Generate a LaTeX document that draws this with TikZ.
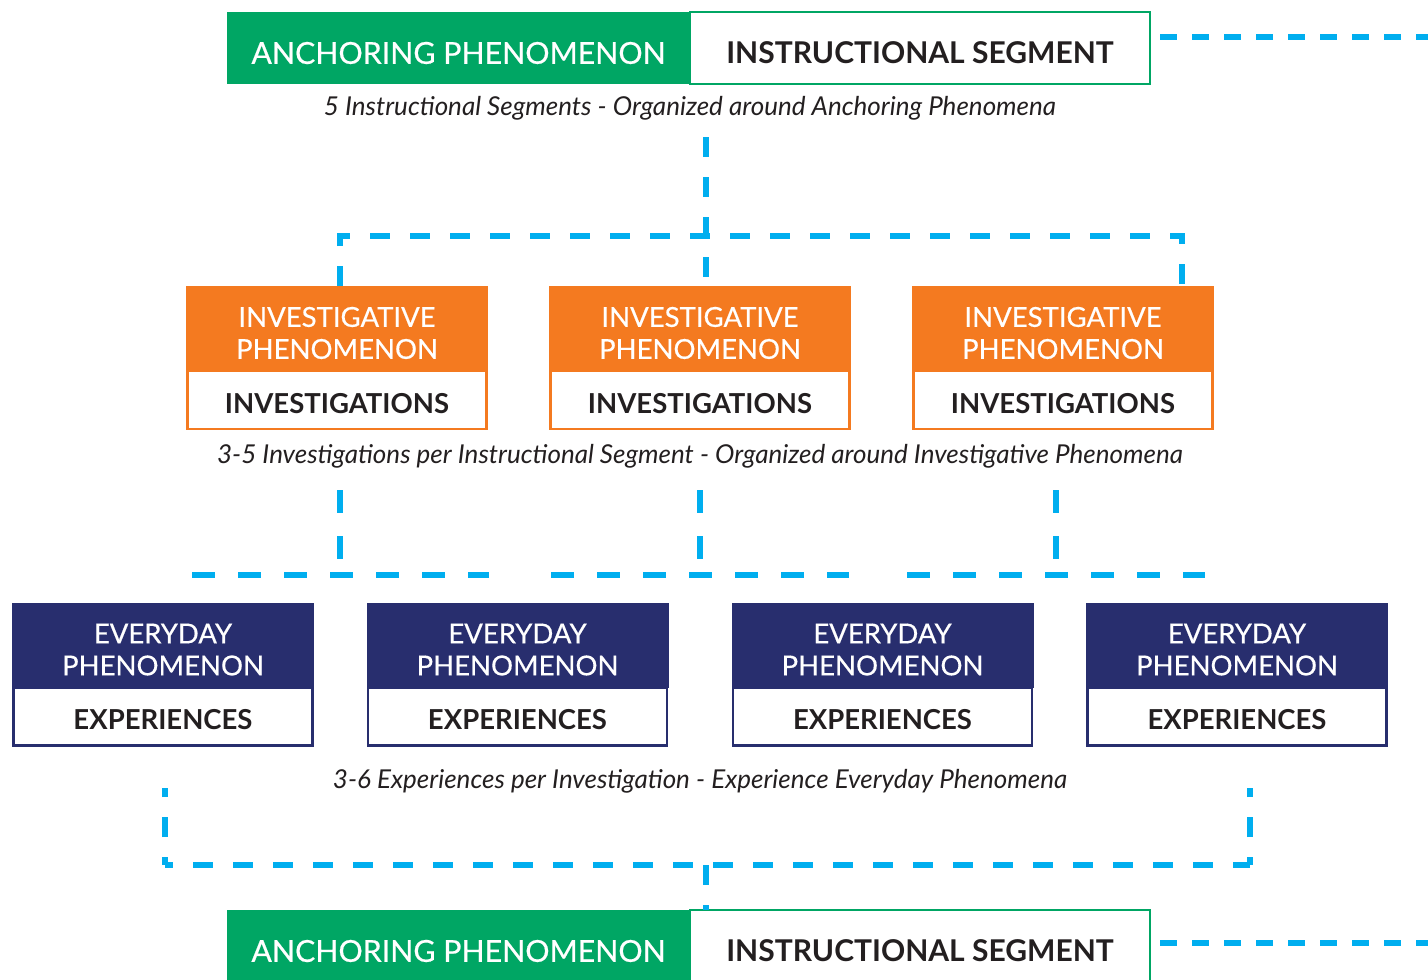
\documentclass[tikz,border=0pt]{standalone}
\usepackage{fontspec}
\setmainfont{Lato}
\newfontfamily\labelfont{Lato}[FakeBold=0.5]
\usepackage{xcolor}
\usetikzlibrary{positioning}
\definecolor{leafgreen}{RGB}{0,166,100}
\definecolor{rustorange}{RGB}{244,122,32}
\definecolor{deepnavy}{RGB}{40,46,110}
\definecolor{skycyan}{RGB}{0,174,239}
\definecolor{inkgray}{RGB}{35,31,32}
\tikzset{
    anchor-box/.style = {fill=leafgreen, text=white, minimum width=463pt, minimum height=72pt, inner sep=0pt, outer sep=0pt, text height=31.7pt, text depth=0pt, font=\labelfont\fontsize{30.3}{34}\selectfont},
    segment-box/.style = {draw=leafgreen, line width=2.5pt, fill=white, text=inkgray, minimum width=460pt, minimum height=72pt, inner sep=0pt, outer sep=0pt, text height=31.7pt, text depth=0pt, font=\bfseries\fontsize{30}{34}\selectfont},
    inv-head/.style = {fill=rustorange, text=white, align=center, minimum width=302pt, minimum height=85pt, inner sep=0pt, outer sep=0pt, text height=60.7pt, text depth=0pt, font=\labelfont\fontsize{27.5}{32}\selectfont},
    inv-body/.style = {draw=rustorange, line width=2.5pt, fill=white, text=inkgray, minimum width=299pt, minimum height=58pt, inner sep=0pt, outer sep=0pt, text height=26.8pt, text depth=0pt, font=\bfseries\fontsize{27.5}{30}\selectfont},
    day-head/.style = {inv-head, fill=deepnavy},
    day-body/.style = {inv-body, draw=deepnavy},
    note/.style = {text=inkgray, font=\itshape\fontsize{26}{30}\selectfont},
    link/.style = {draw=skycyan, line width=5.5pt, dash pattern=on 20pt off 20pt},
    link-mid/.style = {link, dash pattern=on 23pt off 23pt},
    link-side/.style = {link, dash pattern=on 17pt off 15pt},
}
\begin{document}
\begin{tikzpicture}[x=1pt, y=-1pt]
\fill[white] (0,0) rectangle (1428,980);
\useasboundingbox (0,0) rectangle (1428,980);
% top segment
\node[anchor-box] (anchor1) at (458.5,48) {ANCHORING PHENOMENON};
\node[segment-box, right=0pt of anchor1] (segment1) {INSTRUCTIONAL SEGMENT};
\node[note] (note1) at (690,108) {5 Instructional Segments - Organized around Anchoring Phenomena};
% investigations
\node[inv-head] (inv1) at (337,328.5) {INVESTIGATIVE\\PHENOMENON};
\node[inv-body, below=0pt of inv1] (inv1b) {INVESTIGATIONS};
\node[inv-head] (inv2) at (700,328.5) {INVESTIGATIVE\\PHENOMENON};
\node[inv-body, below=0pt of inv2] (inv2b) {INVESTIGATIONS};
\node[inv-head] (inv3) at (1063,328.5) {INVESTIGATIVE\\PHENOMENON};
\node[inv-body, below=0pt of inv3] (inv3b) {INVESTIGATIONS};
\node[note] (note2) at (700,456) {3-5 Investigations per Instructional Segment - Organized around Investigative Phenomena};
% experiences
\node[day-head] (day1) at (163,645) {EVERYDAY\\PHENOMENON};
\node[day-body, below=0pt of day1] (day1b) {EXPERIENCES};
\node[day-head] (day2) at (517.5,645) {EVERYDAY\\PHENOMENON};
\node[day-body, below=0pt of day2] (day2b) {EXPERIENCES};
\node[day-head] (day3) at (882.5,645) {EVERYDAY\\PHENOMENON};
\node[day-body, below=0pt of day3] (day3b) {EXPERIENCES};
\node[day-head] (day4) at (1237,645) {EVERYDAY\\PHENOMENON};
\node[day-body, below=0pt of day4] (day4b) {EXPERIENCES};
\node[note] (note3) at (700,781) {3-6 Experiences per Investigation - Experience Everyday Phenomena};
% next segment
\node[anchor-box] (anchor2) at (458.5,946) {ANCHORING PHENOMENON};
\node[segment-box, right=0pt of anchor2] (segment2) {INSTRUCTIONAL SEGMENT};

% dashed links
\coordinate (hub0) at (706,137);
\coordinate (hub1l) at (340,236);
\coordinate (hub1r) at (1182,236);
\draw[link] (hub0) -- (hub0 |- inv2.north);
\draw[link] (inv1.north -| hub1l) -- (hub1l) -- (hub1r) -- (inv3.north -| hub1r);

\coordinate (drop2a) at (340,490);
\coordinate (drop2b) at (700,490);
\coordinate (drop2c) at (1056,490);
\coordinate (hub2a) at (340,575);
\coordinate (hub2b) at (700,575);
\coordinate (hub2c) at (1056,575);
\draw[link-mid] (drop2a) -- (hub2a);
\draw[link-mid] (drop2b) -- (hub2b);
\draw[link-mid] (drop2c) -- (hub2c);
\draw[link-mid] ([xshift=-148pt]hub2a) -- ([xshift=149pt]hub2a);
\draw[link-mid] ([xshift=-149pt]hub2b) -- ([xshift=149pt]hub2b);
\draw[link-mid] ([xshift=-149pt]hub2c) -- ([xshift=149pt]hub2c);

\coordinate (rise3l) at (165,788);
\coordinate (rise3r) at (1250,788);
\coordinate (hub3l) at (165,865);
\coordinate (hub3r) at (1250,865);
\coordinate (hub3) at (706,865);
\draw[link, dash phase=12pt] (hub3l) -- (rise3l);
\draw[link, dash phase=12pt] (hub3r) -- (rise3r);
\draw[link, dash phase=12pt] (hub3l) -- (hub3r);
\draw[link] (hub3) -- (hub3 |- anchor2.north);

\coordinate (side1) at (1160,37);
\coordinate (edge1) at (1428,37);
\coordinate (side2) at (1160,943);
\coordinate (edge2) at (1428,943);
\draw[link-side] (side1) -- (edge1);
\draw[link-side] (side2) -- (edge2);
\end{tikzpicture}
\end{document}
